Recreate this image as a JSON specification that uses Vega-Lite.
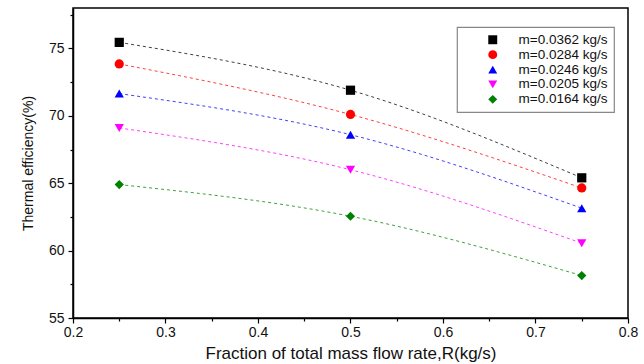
{
  "$schema": "https://vega.github.io/schema/vega-lite/v6.json",
  "width": 555,
  "height": 310,
  "autosize": {"type": "none"},
  "padding": {"left": 73, "top": 8, "right": 16, "bottom": 46},
  "background": "white",
  "config": {
    "font": "Liberation Sans",
    "view": {"stroke": "black", "strokeWidth": 1.5},
    "axis": {"grid": false, "domainColor": "black", "domainWidth": 1.5, "tickColor": "black", "tickWidth": 1.2, "labelColor": "#111", "titleColor": "#111", "labelFont": "Liberation Sans", "titleFont": "Liberation Sans", "titleFontWeight": "normal"},
    "legend": {
      "orient": "none", "legendX": 384, "legendY": 19,
      "strokeColor": "#888", "strokeWidth": 1.2, "padding": 6, "labelFontSize": 13.5, "labelColor": "#111",
      "symbolSize": 80, "rowPadding": -0.1, "symbolOffset": 23, "labelOffset": 19, "symbolStrokeWidth": 0, "labelFont": "Liberation Sans"
    }
  },
  "data": {
    "values": [
      {"series": "m=0.0362 kg/s", "R": 0.25, "eff": 75.45},
      {"series": "m=0.0362 kg/s", "R": 0.5, "eff": 71.9},
      {"series": "m=0.0362 kg/s", "R": 0.75, "eff": 65.4},
      {"series": "m=0.0284 kg/s", "R": 0.25, "eff": 73.85},
      {"series": "m=0.0284 kg/s", "R": 0.5, "eff": 70.1},
      {"series": "m=0.0284 kg/s", "R": 0.75, "eff": 64.65},
      {"series": "m=0.0246 kg/s", "R": 0.25, "eff": 71.65},
      {"series": "m=0.0246 kg/s", "R": 0.5, "eff": 68.6},
      {"series": "m=0.0246 kg/s", "R": 0.75, "eff": 63.15},
      {"series": "m=0.0205 kg/s", "R": 0.25, "eff": 69.1},
      {"series": "m=0.0205 kg/s", "R": 0.5, "eff": 66.0},
      {"series": "m=0.0205 kg/s", "R": 0.75, "eff": 60.55},
      {"series": "m=0.0164 kg/s", "R": 0.25, "eff": 64.9},
      {"series": "m=0.0164 kg/s", "R": 0.5, "eff": 62.55},
      {"series": "m=0.0164 kg/s", "R": 0.75, "eff": 58.15}
    ]
  },
  "encoding": {
    "x": {
      "field": "R", "type": "quantitative",
      "scale": {"domain": [0.2, 0.8], "nice": false, "zero": false},
      "axis": {
        "title": "Fraction of total mass flow rate,R(kg/s)",
        "values": [0.2, 0.25, 0.3, 0.35, 0.4, 0.45, 0.5, 0.55, 0.6, 0.65, 0.7, 0.75, 0.8],
        "labelExpr": "round(datum.value*20) % 2 == 0 ? format(datum.value, '.1f') : ''",
        "tickSize": {"condition": {"test": "round(datum.value*20) % 2 == 1", "value": 3}, "value": 5},
        "labelFontSize": 14, "labelPadding": 2, "titleFontSize": 17, "titlePadding": 6, "labelFlush": false
      }
    },
    "y": {
      "field": "eff", "type": "quantitative",
      "scale": {"domain": [55, 78], "nice": false, "zero": false},
      "axis": {
        "title": "Thermal efficiency(%)",
        "values": [55, 57.5, 60, 62.5, 65, 67.5, 70, 72.5, 75, 77.5],
        "labelExpr": "datum.value % 5 == 0 ? format(datum.value, 'd') : ''",
        "tickSize": {"condition": {"test": "datum.value % 5 != 0", "value": 3}, "value": 5},
        "labelFontSize": 14, "labelPadding": 4, "titleFontSize": 14, "titlePadding": 13
      }
    },
    "color": {
      "field": "series", "type": "nominal",
      "scale": {
        "domain": ["m=0.0362 kg/s", "m=0.0284 kg/s", "m=0.0246 kg/s", "m=0.0205 kg/s", "m=0.0164 kg/s"],
        "range": ["#000000", "#ff0000", "#0000ff", "#ff00ff", "#008000"]
      },
      "legend": {"title": null}
    }
  },
  "layer": [
    {
      "mark": {"type": "line", "interpolate": "monotone", "strokeDash": [3, 3], "strokeWidth": 1, "strokeOpacity": 0.75},
      "encoding": {"detail": {"field": "series"}}
    },
    {
      "mark": {"type": "point", "filled": true, "size": 85, "opacity": 1},
      "encoding": {
        "shape": {
          "field": "series", "type": "nominal",
          "scale": {
            "domain": ["m=0.0362 kg/s", "m=0.0284 kg/s", "m=0.0246 kg/s", "m=0.0205 kg/s", "m=0.0164 kg/s"],
            "range": ["square", "circle", "triangle-up", "triangle-down", "diamond"]
          },
          "legend": {"title": null}
        }
      }
    }
  ]
}
